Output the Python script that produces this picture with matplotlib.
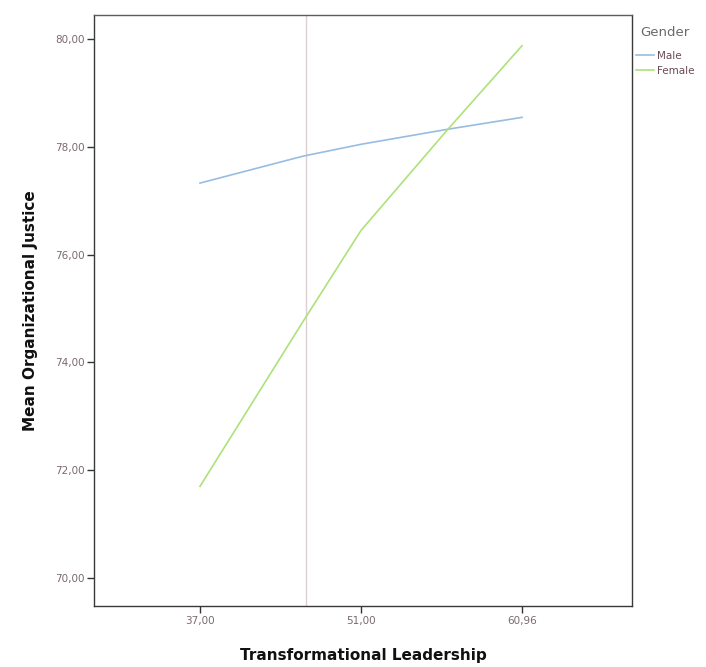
import matplotlib
matplotlib.use("Agg")
import matplotlib.pyplot as plt

# Data (x as category positions: 0 -> 37.00, 1 -> 51.00, 2 -> 60.96)
x_pos = [0.0, 0.64, 1.0, 1.54, 2.0]
male = [77.33, 77.83, 78.05, 78.33, 78.55]
female = [71.70, 74.76, 76.45, 78.33, 79.88]
xtick_pos = [0, 1, 2]
xtick_labels = ["37,00", "51,00", "60,96"]
ytick_vals = [70, 72, 74, 76, 78, 80]
ref_line_pos = 0.66

fig = plt.figure(figsize=(7.06, 6.67), dpi=100)
ax = fig.add_axes([94/706, 61/667, 538/706, 591/667])

ax.axvline(ref_line_pos, color="#dccfd3", lw=1.0, zorder=1)
ax.plot(x_pos, male, color="#98bde2", lw=1.2, label="Male", zorder=2)
ax.plot(x_pos, female, color="#ade27a", lw=1.2, label="Female", zorder=3)

ax.set_xlim(-0.658, 2.683)
ax.set_ylim(69.48, 80.45)
ax.set_xticks(xtick_pos)
ax.set_xticklabels(xtick_labels)
ax.set_yticks(ytick_vals)
ax.set_yticklabels([f"{v:.2f}".replace(".", ",") for v in ytick_vals])
ax.tick_params(direction="out", length=5, width=1, color="#333333",
               labelsize=7.5, labelcolor="#7a6870", pad=2)
for s in ax.spines.values():
    s.set_color("#3a3a3a")
    s.set_linewidth(1.0)
ax.spines["top"].set_color("#6a5560")

ax.set_xlabel("Transformational Leadership", fontsize=11, fontweight="bold",
              color="#111111", labelpad=16)
ax.set_ylabel("Mean Organizational Justice", fontsize=11, fontweight="bold",
              color="#111111", labelpad=12)

fig.text(640/706, 1 - 32/667, "Gender", fontsize=9.5, color="#6a6a6a",
         ha="left", va="center")
leg = fig.legend(loc="upper left", bbox_to_anchor=(636/706, 1 - 51/667),
                 frameon=False, fontsize=7.5, handlelength=1.7,
                 handletextpad=0.3, labelspacing=0.45, borderaxespad=0,
                 borderpad=0)
for t in leg.get_texts():
    t.set_color("#6a4a55")

fig.savefig("out.png", dpi=100)
